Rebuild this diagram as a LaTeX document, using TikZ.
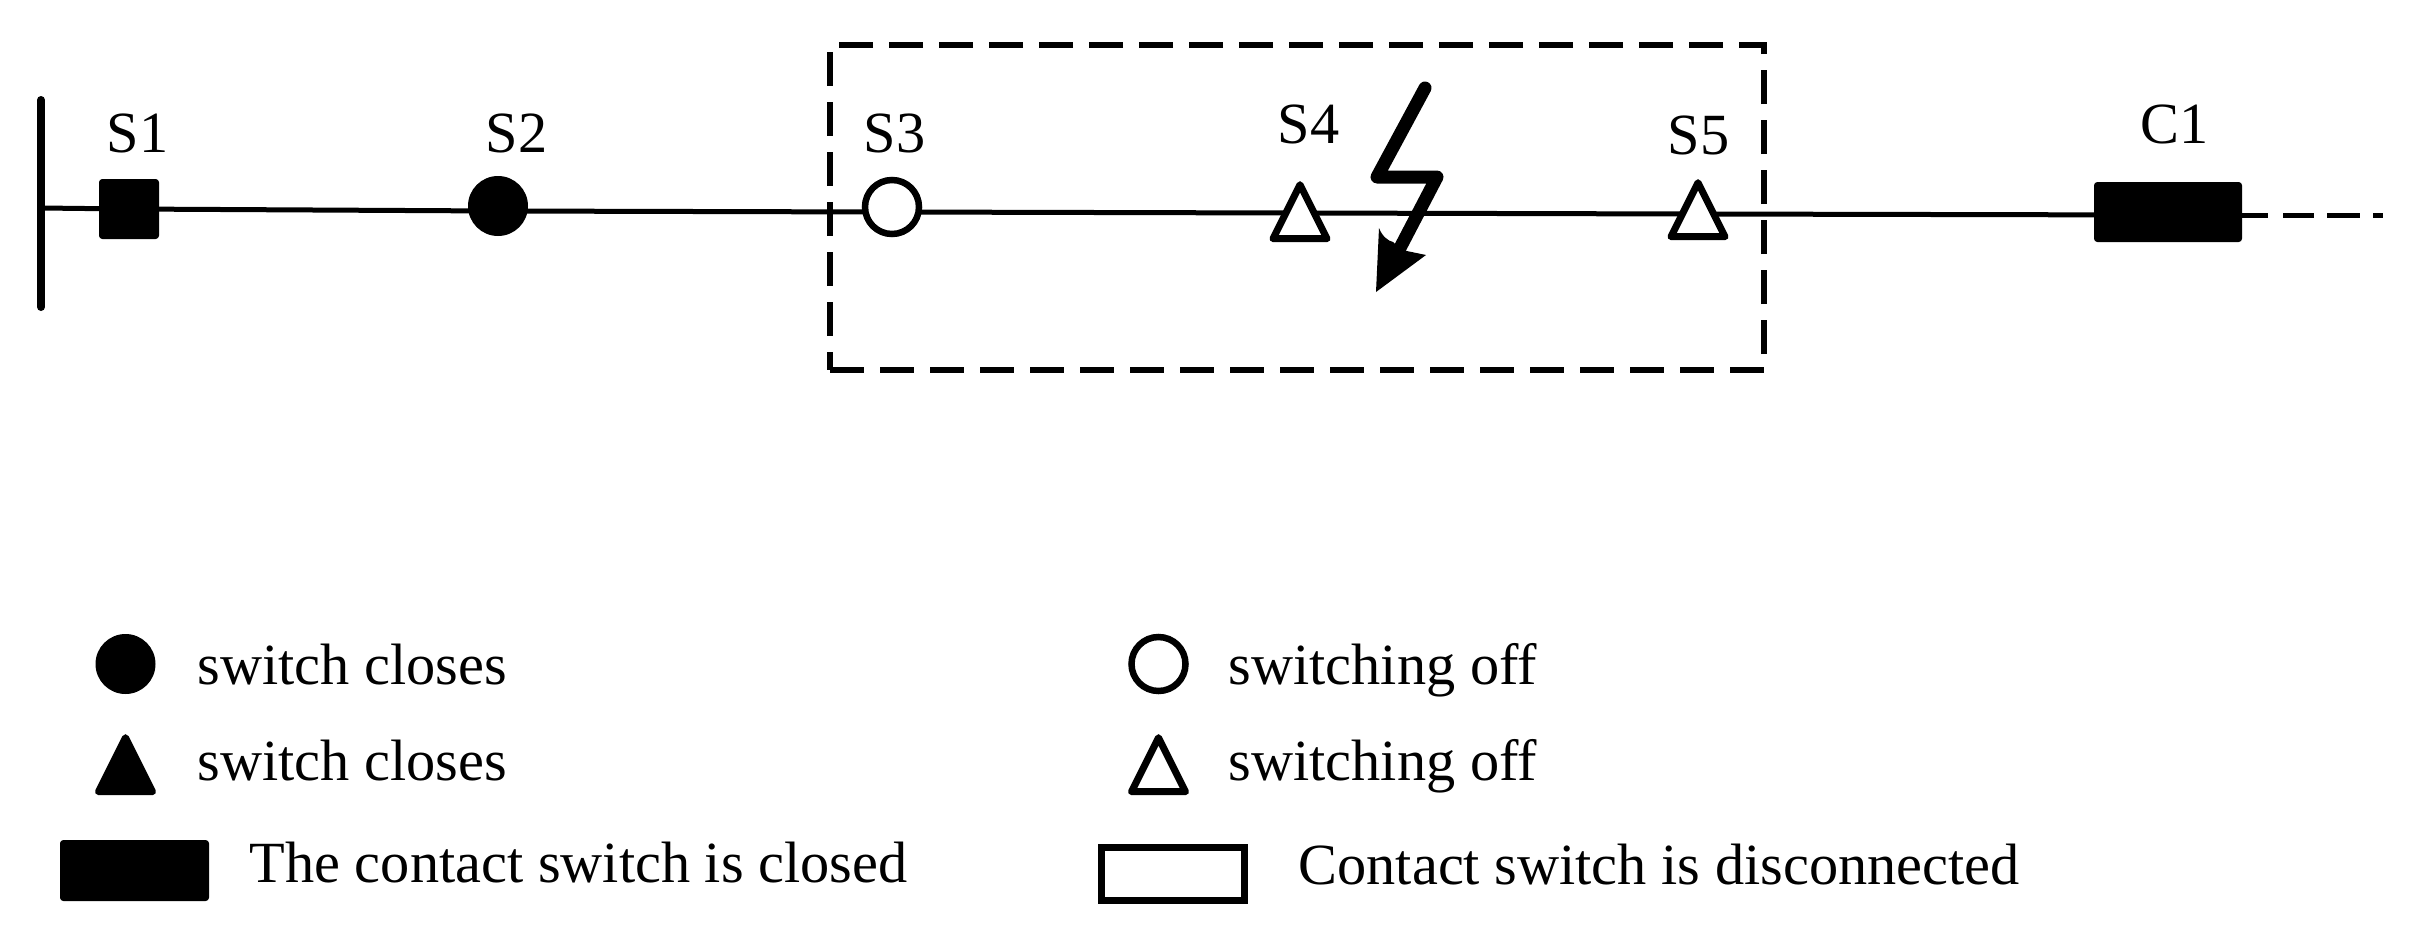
\documentclass[tikz,border=0pt]{standalone}
\usepackage{fontspec}
\setmainfont{Liberation Serif}
\usetikzlibrary{shapes.geometric,backgrounds}
\newcommand{\PX}[1]{#1*0.3pt}
\tikzset{
  x=0.3pt,y=-0.3pt,
  lab/.style={inner sep=0pt,anchor=base west,font=\fontsize{17.5pt}{20pt}\selectfont},
  blackbox/.style={rectangle,fill=black,inner sep=0pt,outer sep=0pt,rounded corners=1pt},
  dot/.style={circle,inner sep=0pt,fill=black,outer sep=0pt,minimum size=\PX{60}},
  ring/.style={circle,inner sep=0pt,draw=black,fill=white,line width=\PX{6.5},minimum size=\PX{54}},
  tri/.style={isosceles triangle,isosceles triangle stretches,shape border rotate=90,inner sep=0pt,outer sep=0pt,
     minimum width=\PX{54},minimum height=\PX{54},draw=black,fill=white,line width=\PX{7},line join=round},
  trifill/.style={tri,fill=black},
  wire/.style={line width=\PX{5},draw=black},
  zone/.style={rectangle,inner sep=0pt,draw=black,line width=\PX{5.5},dash pattern=on \PX{34} off \PX{16},
     minimum width=\PX{934},minimum height=\PX{325},outer sep=0pt}
}
\begin{document}
\begin{tikzpicture}
\useasboundingbox (0,0) rectangle (2409,931);
% bus
\coordinate (bustop) at (41,100);
\coordinate (busbot) at (41,307);
\coordinate (busin) at (41,208);
\draw[line width=\PX{8},line cap=round] (bustop) -- (busbot);
% switches
\node[blackbox,minimum width=\PX{60},minimum height=\PX{60}] (s1) at (129,209) {};
\node[dot] (s2) at (498,206) {};
\node[ring] (s3) at (892,207) {};
\node[tri] (s4) at (1300,222) {};
\node[tri] (s5) at (1698,220) {};
\node[blackbox,minimum width=\PX{148},minimum height=\PX{60}] (c1) at (2168,212) {};
\coordinate (cend) at (2383,215);
% connectors behind the symbols
\begin{pgfonlayer}{background}
\draw[wire] (busin) -- (s1);
\draw[wire] (s1) -- ([yshift=\PX{-5}]s2.center);
\draw[wire] ([yshift=\PX{-5}]s2.center) -- ([yshift=\PX{-5}]s3.center);
\draw[wire] ([yshift=\PX{-5}]s3.center) -- ([yshift=\PX{9}]s4.center);
\draw[wire] ([yshift=\PX{9}]s4.center) -- ([yshift=\PX{6}]s5.center);
\draw[wire] ([yshift=\PX{6}]s5.center) -- ([yshift=\PX{-3}]c1.center);
\end{pgfonlayer}
\draw[wire,dash pattern=on \PX{26} off \PX{15} on \PX{31} off \PX{13} on \PX{33} off \PX{13} on \PX{10} off \PX{10}] ([yshift=\PX{-3}]c1.east) -- (cend);
% dashed zone
\node[zone] (area) at (1297,207.5) {};
% fault
\draw[line width=\PX{13},line join=round,line cap=round] (1425,88) -- (1377,177) -- (1437,177) -- (1400,248);
\fill (1376,292) -- (1379,228) .. controls (1382,236) and (1388,241) .. (1393,242) -- (1402,250) -- (1426,255) -- cycle;
% labels
\node[lab] (ls1) at (106,152) {S1};
\node[lab] (ls2) at (485,152) {S2};
\node[lab] (ls3) at (863,152) {S3};
\node[lab] (ls4) at (1277,143) {S4};
\node[lab] (ls5) at (1667,154) {S5};
\node[lab] (lc1) at (2140,143) {C1};
% legend
\node[dot] (k1) at (125.5,664) {};
\node[trifill] (k2) at (125.5,775) {};
\node[blackbox,minimum width=\PX{149},minimum height=\PX{61}] (k3) at (134.5,870.5) {};
\node[ring] (k4) at (1158.5,664) {};
\node[tri] (k5) at (1158.5,775) {};
\node[draw=black,line width=\PX{7},minimum width=\PX{143},minimum height=\PX{53},inner sep=0pt] (k6) at (1173,874) {};
\node[lab] (t1) at (197,684) {switch closes};
\node[lab] (t2) at (197,780) {switch closes};
\node[lab] (t3) at (249,882) {The contact switch is closed};
\node[lab] (t4) at (1228,684) {switching off};
\node[lab] (t5) at (1228,780) {switching off};
\node[lab] (t6) at (1298,884) {Contact switch is disconnected};
\end{tikzpicture}
\end{document}
